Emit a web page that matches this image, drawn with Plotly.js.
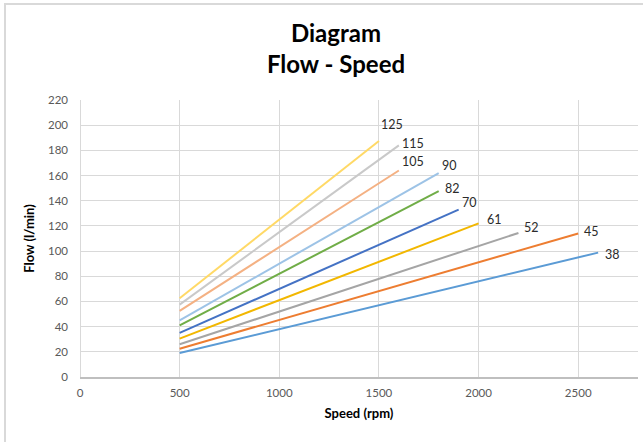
<!DOCTYPE html>
<html>
<head>
<meta charset="utf-8">
<script src="https://cdn.plot.ly/plotly-3.0.1.min.js"></script>
<style>
html,body{margin:0;padding:0;background:#fff;}
#chart{width:643px;height:442px;}
</style>
</head>
<body>
<div id="chart"></div>
<script>
// Data
const seriesNames = ['38', '45', '52', '61', '70', '82', '90', '105', '115', '125'];
const startSpeed = [500, 500, 500, 500, 500, 500, 500, 500, 500, 500];
const endSpeed = [2600, 2500, 2200, 2000, 1900, 1800, 1800, 1600, 1600, 1500];
const startFlow = [19, 22.5, 26, 30.5, 35, 41, 45, 52.5, 57.5, 62.5];
const endFlow = [98.8, 114, 114.4, 122, 133, 147.6, 162, 164, 184, 187.5];
const xTicks = [0, 500, 1000, 1500, 2000, 2500];
const yTicks = [0, 20, 40, 60, 80, 100, 120, 140, 160, 180, 200, 220];

// Styles
const colors = ['#5B9BD5', '#ED7D31', '#A5A5A5', '#F2B700', '#4472C4', '#70AD47',
                '#9DC3E6', '#F4B183', '#C9C9C9', '#FFD966'];
const labelDx = [5, 4, 4, 6, 1, 4, 1, 1, 1, 0];
const labelDy = [-2, 2, 5, 4, 7, 3, 8, 9, 2, 16];

const traces = seriesNames.map((n, i) => ({
  type: 'scatter',
  mode: 'lines',
  name: n,
  x: [startSpeed[i], endSpeed[i]],
  y: [startFlow[i], endFlow[i]],
  line: {color: colors[i], width: 2},
  hoverinfo: 'skip'
}));

const annotations = seriesNames.map((n, i) => ({
  x: endSpeed[i], y: endFlow[i], xref: 'x', yref: 'y',
  text: n, showarrow: false, xanchor: 'left', yanchor: 'middle',
  xshift: labelDx[i], yshift: labelDy[i],
  font: {family: 'Lato, sans-serif', size: 12.5, color: '#2b2b2b'}
}));

const plotL = 80, plotR = 638, plotT = 100, plotB = 377;
const pw = plotR - plotL, ph = plotB - plotT;

const layout = {
  width: 643, height: 442,
  margin: {l: plotL, r: 643 - plotR, t: plotT, b: 442 - plotB, pad: 0},
  paper_bgcolor: '#ffffff', plot_bgcolor: '#ffffff',
  showlegend: false,
  title: {
    text: '<b>Diagram</b><br><b>Flow - Speed</b>',
    xref: 'container', yref: 'container',
    x: 336 / 643, xanchor: 'center',
    y: 1 - 42 / 442, yanchor: 'middle',
    font: {family: 'Lato, sans-serif', size: 24, color: '#000000'}
  },
  xaxis: {
    range: [0, 2800],
    tickvals: xTicks, ticktext: xTicks.map(String),
    showgrid: true, gridcolor: '#D9D9D9', gridwidth: 1,
    zeroline: true, zerolinecolor: '#D9D9D9', zerolinewidth: 1,
    showline: true, linecolor: '#BFBFBF', linewidth: 1.5,
    ticks: '', ticklabelstandoff: 5,
    tickfont: {family: 'Lato, sans-serif', size: 11.5, color: '#595959'},
    title: {text: '<b>Speed (rpm)</b>', standoff: 10,
            font: {family: 'Lato, sans-serif', size: 13, color: '#000000'}},
    fixedrange: true
  },
  yaxis: {
    range: [0, 220],
    tickvals: yTicks, ticktext: yTicks.map(String),
    showgrid: true, gridcolor: '#D9D9D9', gridwidth: 1,
    zeroline: false, showline: false,
    ticks: '', ticklabelstandoff: 11,
    tickfont: {family: 'Lato, sans-serif', size: 11.5, color: '#595959'},
    title: {text: '<b>Flow (l/min)</b>', standoff: 10,
            font: {family: 'Lato, sans-serif', size: 13, color: '#000000'}},
    fixedrange: true
  },
  shapes: [{
    type: 'rect', xref: 'paper', yref: 'paper', layer: 'below',
    x0: (5 - plotL) / pw, x1: (700 - plotL) / pw,
    y0: (plotB - 500) / ph, y1: (plotB - 4) / ph,
    line: {color: '#D9D9D9', width: 2}, fillcolor: 'rgba(0,0,0,0)'
  }],
  annotations: annotations
};

Plotly.newPlot('chart', traces, layout, {displayModeBar: false, staticPlot: true});
</script>
</body>
</html>
